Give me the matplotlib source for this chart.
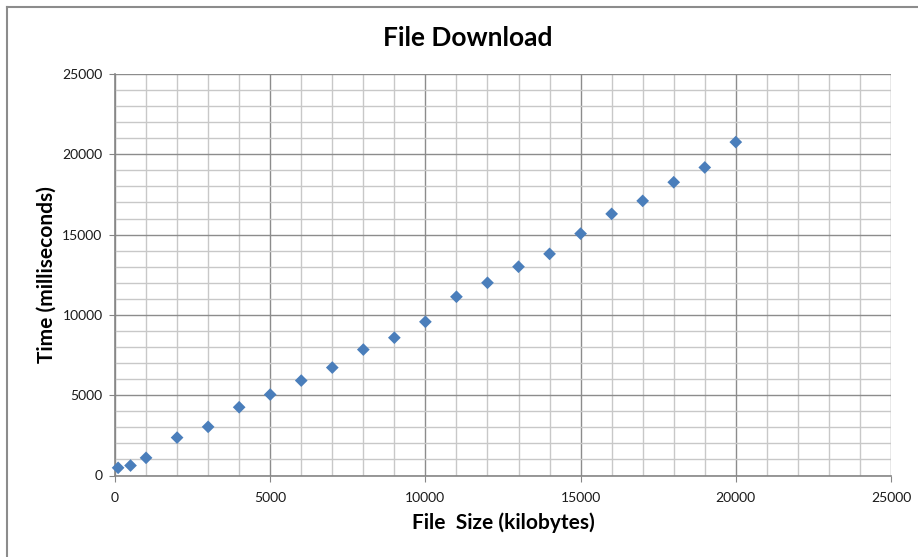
import matplotlib.pyplot as plt
from matplotlib.lines import Line2D
from matplotlib.ticker import MultipleLocator

plt.rcParams['font.family'] = ['Lato', 'DejaVu Sans']

# measured download times
file_size_kb = [100, 500, 1000, 2000, 3000, 4000, 5000, 6000, 7000, 8000, 9000,
                10000, 11000, 12000, 13000, 14000, 15000, 16000, 17000, 18000,
                19000, 20000]
time_ms = [480, 620, 1100, 2360, 3030, 4250, 5040, 5910, 6720, 7840, 8580,
           9570, 11130, 12000, 13000, 13800, 15060, 16290, 17100, 18260,
           19180, 20760]

fig = plt.figure(figsize=(9.18, 5.57), dpi=100)
ax = fig.add_axes([115 / 918, 1 - 475.5 / 557, 776 / 918, 401.5 / 557])

ax.scatter(file_size_kb, time_ms, marker='D', s=42, color='#4a7ebb',
           edgecolors='none', zorder=3, clip_on=False)

ax.set_xlim(0, 25000)
ax.set_ylim(0, 25000)
ax.xaxis.set_major_locator(MultipleLocator(5000))
ax.yaxis.set_major_locator(MultipleLocator(5000))
ax.xaxis.set_minor_locator(MultipleLocator(1000))
ax.yaxis.set_minor_locator(MultipleLocator(1000))

ax.grid(which='minor', color='#c8c8c8', linewidth=1.0)
ax.grid(which='major', color='#8c8c8c', linewidth=1.0)
ax.set_axisbelow(True)

for side in ['top', 'right']:
    ax.spines[side].set_visible(False)
for side in ['left', 'bottom']:
    ax.spines[side].set_color('#868686')
    ax.spines[side].set_linewidth(1.2)

ax.tick_params(which='major', direction='out', length=4, color='#868686',
               labelsize=10, labelcolor='#1a1a1a')
ax.tick_params(axis='y', which='major', pad=5)
ax.tick_params(axis='x', which='major', pad=8)
ax.tick_params(which='minor', length=0)

# title is centred on the whole chart area, not the plot area
fig.text(468 / 918, 1 - 46 / 557, 'File Download', fontsize=19,
         fontweight='bold', ha='center', va='baseline')
ax.set_xlabel('File  Size (kilobytes)', fontsize=15, fontweight='bold', labelpad=6)
ax.set_ylabel('Time (milliseconds)', fontsize=15, fontweight='bold', labelpad=4)

# chart area border
fig.add_artist(Line2D([7 / 918, 7 / 918], [0, 1 - 6.5 / 557],
                      transform=fig.transFigure, color='#8c8c8c', linewidth=1.5))
fig.add_artist(Line2D([7 / 918, 1], [1 - 6.5 / 557, 1 - 6.5 / 557],
                      transform=fig.transFigure, color='#8c8c8c', linewidth=1.5))

fig.savefig('out.png', dpi=100)
